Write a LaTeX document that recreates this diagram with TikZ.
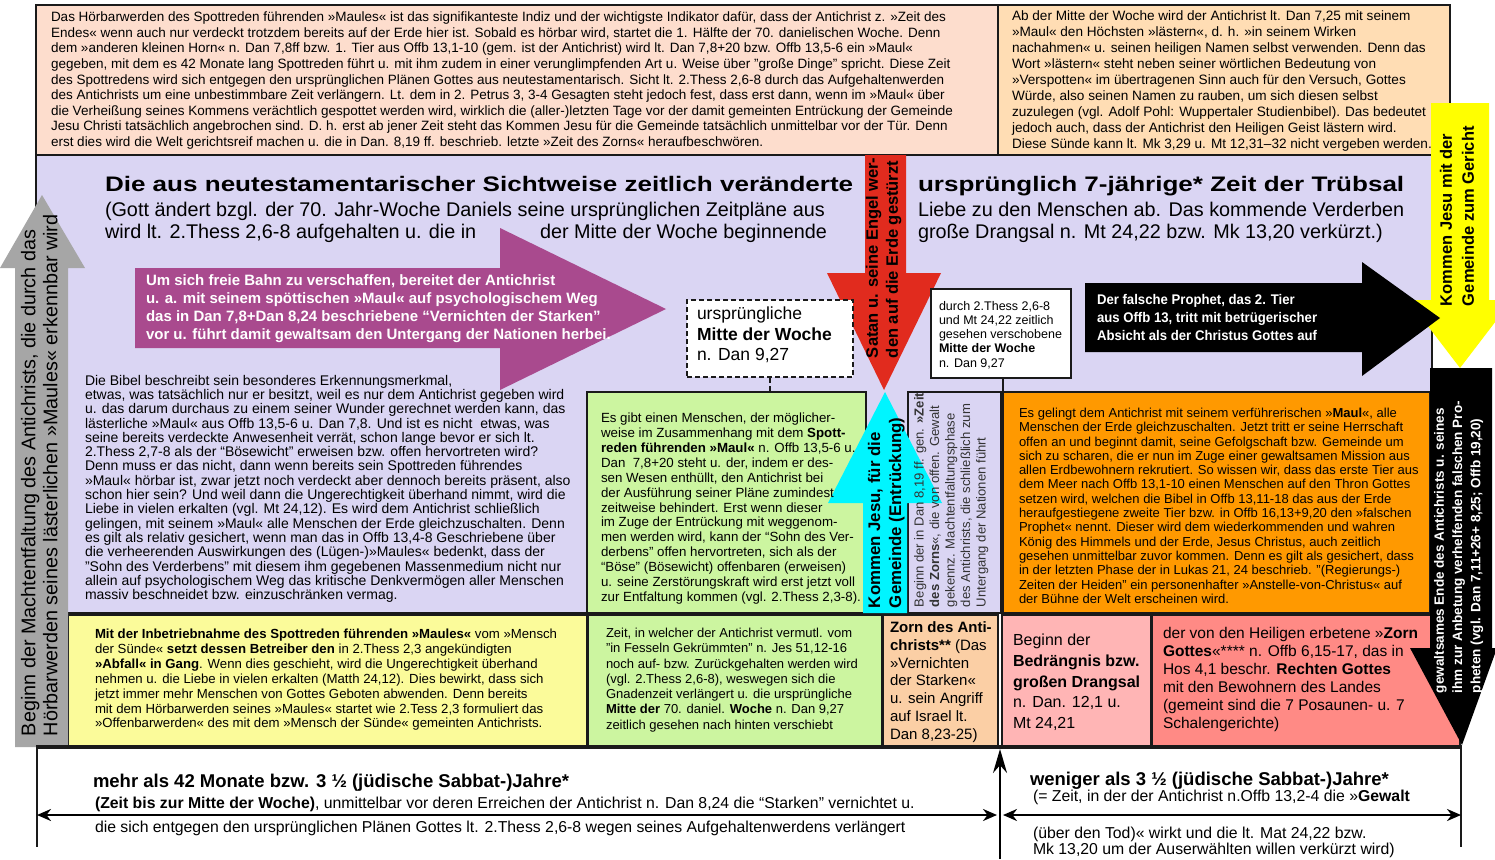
\documentclass[tikz,border=0pt]{standalone}
\usepackage{fontspec}
\usepackage{graphicx}
\setmainfont{Liberation Sans}
\newfontfamily\widesans[FakeStretch=1.24]{Liberation Sans}
\newfontfamily\narrowsans[FakeStretch=0.94]{Liberation Sans}
\usetikzlibrary{arrows.meta}
\definecolor{bd}{HTML}{1A1A1A}
\definecolor{lav}{HTML}{DAD5F3}
\definecolor{tlpeach}{HTML}{FDDDCD}
\definecolor{trpeach}{HTML}{FFDDB4}
\definecolor{purp}{HTML}{A94A8E}
\definecolor{redarr}{HTML}{E12B1E}
\definecolor{cyanarr}{HTML}{00F5FF}
\definecolor{yelarr}{HTML}{FFFF00}
\definecolor{grn}{HTML}{CCF5A0}
\definecolor{orng}{HTML}{FF9900}
\definecolor{ylw}{HTML}{FBFB9A}
\definecolor{pch}{HTML}{FBCFA5}
\definecolor{pnk}{HTML}{FFB5B5}
\definecolor{slm}{HTML}{FF8A85}
\definecolor{gry}{HTML}{A6A6A6}
\newcommand{\fsz}[2]{\fontsize{#1}{#2}\selectfont}
\begin{document}
\begin{tikzpicture}[x=1pt,y=-1pt,
  bx/.style={draw=bd, line width=2.6pt, inner sep=0pt, outer sep=0pt, anchor=north west},
  tx/.style={inner sep=0pt, outer sep=0pt, align=left, anchor=north west},
  ln/.style={inner sep=0pt, outer sep=0pt, anchor=base west},
  rt/.style={inner sep=0pt, outer sep=0pt, align=left, anchor=north west, rotate=90},
  dimarrow/.style={line width=2.5pt, {Stealth[length=14pt,width=12pt]}-{Stealth[length=14pt,width=12pt]}}
]
\useasboundingbox[fill=white] (0,0) rectangle (1495,859);

% main background panels
\node[bx, fill=lav, minimum width=1396pt, minimum height=458pt] (lavbg) at (36,155) {};
\node[bx, fill=tlpeach, minimum width=962pt, minimum height=150pt] (tl) at (36,5) {};
\node[bx, fill=trpeach, minimum width=452pt, minimum height=150pt] (tr) at (998,5) {};

% middle boxes
\node[bx, fill=grn, minimum width=279pt, minimum height=221pt] (gbox) at (587,392) {};
\node[bx, fill=lav, minimum width=93pt, minimum height=221pt] (zcol) at (908,392) {};
\node[bx, fill=orng, minimum width=427pt, minimum height=221pt] (obox) at (1003,392) {};

% bottom row boxes
\node[bx, fill=ylw, minimum width=519pt, minimum height=132pt] (ybox) at (68,615) {};
\node[bx, fill=grn, minimum width=294pt, minimum height=132pt] (g2box) at (588,615) {};
\node[bx, fill=pch, minimum width=115pt, minimum height=132pt] (pbox) at (883,615) {};
\node[bx, fill=pnk, minimum width=149pt, minimum height=132pt] (pkbox) at (1002,615) {};
\node[bx, fill=slm, minimum width=308pt, minimum height=132pt] (sbox) at (1152,615) {};

% grey left arrow
\fill[gry] (15,747) -- (15,268) -- (0,268) -- (42,195) -- (85,268) -- (68,268) -- (68,747) -- cycle;

% purple arrow
\fill[purp] (135,268) -- (500,268) -- (500,228) -- (666,309) -- (500,390) -- (500,348) -- (135,348) -- cycle;

% red arrow
\fill[redarr] (865,155) -- (906,155) -- (906,273) -- (941,273) -- (884,390) -- (827,273) -- (865,273) -- cycle;

% cyan arrow
\fill[cyanarr] (863,613) -- (863,503) -- (828,503) -- (885,392) -- (942,503) -- (907,503) -- (907,613) -- cycle;

% yellow arrow
\fill[yelarr] (1431,103) -- (1489,103) -- (1489,300) -- (1512,300) -- (1460,368) -- (1408,300) -- (1431,300) -- cycle;

% black horizontal arrow
\fill[black] (1085,283) -- (1362,283) -- (1362,262) -- (1440,318) -- (1362,376) -- (1362,352) -- (1085,352) -- cycle;

% black vertical arrow
\fill[black] (1430,368) -- (1492,368) -- (1492,648) -- (1497,648) -- (1462,745) -- (1410,648) -- (1430,648) -- cycle;

% dashed box and durch box
\node[draw=bd, line width=2pt, dash pattern=on 5pt off 3pt, fill=white, minimum width=166pt, minimum height=77pt, anchor=north west, inner sep=0pt] (mitte) at (686,299) {};
\draw[bd, line width=2pt, dash pattern=on 5pt off 3pt] (mitte.south) -- (mitte.south |- gbox.north);
\node[bx, fill=white, minimum width=140pt, minimum height=89pt] (durch) at (931,289) {};
\draw[bd, line width=2pt] (durch.south -| obox.west) -- (obox.north west);

% bottom region
\draw[bd, line width=4pt] (36,747) -- (1462,747);
\coordinate (Ltop) at (37,747);
\coordinate (Lbot) at (37,847);
\coordinate (Rtop) at (1461,747);
\coordinate (Rbot) at (1461,847);
\coordinate (L) at (37,815);
\coordinate (Ml) at (997,815);
\coordinate (Mr) at (1003,815);
\coordinate (R) at (1461,815);
\coordinate (upbot) at (1000,859);
\coordinate (uptop) at (1000,749);
\draw[bd, line width=1.5pt] (Ltop) -- (Lbot);
\draw[bd, line width=1.5pt] (Rtop) -- (Rbot);
\draw[dimarrow] (L) -- (Ml);
\draw[dimarrow] (Mr) -- (R);
\draw[line width=2pt, -{Stealth[length=24pt,width=14pt]}] (upbot) -- (uptop);

% ---------- texts ----------
\node[tx, font=\fsz{13.5}{15.6}] (tltext) at (51,12) {Das Hörbarwerden des Spottreden führenden »Maules« ist das signifikanteste Indiz und der wichtigste Indikator dafür, dass der Antichrist z. »Zeit des\\
Endes« wenn auch nur verdeckt trotzdem bereits auf der Erde hier ist. Sobald es hörbar wird, startet die 1. Hälfte der 70. danielischen Woche. Denn\\
dem »anderen kleinen Horn« n. Dan 7,8ff bzw. 1. Tier aus Offb 13,1-10 (gem. ist der Antichrist) wird lt. Dan 7,8+20 bzw. Offb 13,5-6 ein »Maul«\\
gegeben, mit dem es 42 Monate lang Spottreden führt u. mit ihm zudem in einer verunglimpfenden Art u. Weise über "große Dinge" spricht. Diese Zeit\\
des Spottredens wird sich entgegen den ursprünglichen Plänen Gottes aus neutestamentarisch. Sicht lt. 2.Thess 2,6-8 durch das Aufgehaltenwerden\\
des Antichrists um eine unbestimmbare Zeit verlängern. Lt. dem in 2. Petrus 3, 3-4 Gesagten steht jedoch fest, dass erst dann, wenn im »Maul« über\\
die Verheißung seines Kommens verächtlich gespottet werden wird, wirklich die (aller-)letzten Tage vor der damit gemeinten Entrückung der Gemeinde\\
Jesu Christi tatsächlich angebrochen sind. D. h. erst ab jener Zeit steht das Kommen Jesu für die Gemeinde tatsächlich unmittelbar vor der Tür. Denn\\
erst dies wird die Welt gerichtsreif machen u. die in Dan. 8,19 ff. beschrieb. letzte »Zeit des Zorns« heraufbeschwören.};

\node[tx, font=\fsz{13.6}{16}] (trtext) at (1012,11) {Ab der Mitte der Woche wird der Antichrist lt. Dan 7,25 mit seinem\\
»Maul« den Höchsten »lästern«, d. h. »in seinem Wirken\\
nachahmen« u. seinen heiligen Namen selbst verwenden. Denn das\\
Wort »lästern« steht neben seiner wörtlichen Bedeutung von\\
»Verspotten« im übertragenen Sinn auch für den Versuch, Gottes\\
Würde, also seinen Namen zu rauben, um sich diesen selbst\\
zuzulegen (vgl. Adolf Pohl: Wuppertaler Studienbibel). Das bedeutet\\
jedoch auch, dass der Antichrist den Heiligen Geist lästern wird.\\
Diese Sünde kann lt. Mk 3,29 u. Mt 12,31–32 nicht vergeben werden.};

\node[ln, font=\widesans\bfseries\fsz{21}{24}] (t1) at (105,191) {Die aus neutestamentarischer Sichtweise zeitlich veränderte};
\node[ln, font=\fsz{19.8}{22}] (t2) at (105,216) {(Gott ändert bzgl. der 70. Jahr-Woche Daniels seine ursprünglichen Zeitpläne aus};
\node[ln, font=\fsz{19.8}{22}] (t3) at (105,238.5) {wird lt. 2.Thess 2,6-8 aufgehalten u. die in};
\node[ln, font=\fsz{19.8}{22}] (t4) at (540,238.5) {der Mitte der Woche beginnende};
\node[ln, font=\widesans\bfseries\fsz{21}{24}] (t5) at (918,191) {ursprünglich 7-jährige* Zeit der Trübsal};
\node[ln, font=\fsz{19.8}{22}] (t6) at (918,216) {Liebe zu den Menschen ab. Das kommende Verderben};
\node[ln, font=\fsz{19.8}{22}] (t7) at (918,238.5) {große Drangsal n. Mt 24,22 bzw. Mk 13,20 verkürzt.)};

\node[tx, font=\bfseries\fsz{15}{17.8}, text=white] (purptxt) at (146,275) {Um sich freie Bahn zu verschaffen, bereitet der Antichrist\\
u. a. mit seinem spöttischen »Maul« auf psychologischem Weg\\
das in Dan 7,8+Dan 8,24 beschriebene “Vernichten der Starken”\\
vor u. führt damit gewaltsam den Untergang der Nationen herbei.};

\node[tx, font=\fsz{17.5}{20.5}] (mittetxt) at (697,307) {ursprüngliche\\\textbf{Mitte der Woche}\\n. Dan 9,27};

\node[tx, font=\fsz{12.5}{14.3}] (durchtxt) at (939,301) {durch 2.Thess 2,6-8\\und Mt 24,22 zeitlich\\gesehen verschobene\\\textbf{Mitte der Woche}\\n. Dan 9,27};

\node[tx, font=\narrowsans\bfseries\fsz{14}{18}, text=white] (blacktxt) at (1097,294) {Der falsche Prophet, das 2. Tier\\aus Offb 13, tritt mit betrügerischer\\Absicht als der Christus Gottes auf};

\node[tx, font=\fsz{14}{14.3}] (lefttxt) at (85,375) {Die Bibel beschreibt sein besonderes Erkennungsmerkmal,\\
etwas, was tatsächlich nur er besitzt, weil es nur dem Antichrist gegeben wird\\
u. das darum durchaus zu einem seiner Wunder gerechnet werden kann, das\\
lästerliche »Maul« aus Offb 13,5-6 u. Dan 7,8. Und ist es nicht\ \ etwas, was\\
seine bereits verdeckte Anwesenheit verrät, schon lange bevor er sich lt.\\
2.Thess 2,7-8 als der “Bösewicht” erweisen bzw. offen hervortreten wird?\\
Denn muss er das nicht, dann wenn bereits sein Spottreden führendes\\
»Maul« hörbar ist, zwar jetzt noch verdeckt aber dennoch bereits präsent, also\\
schon hier sein? Und weil dann die Ungerechtigkeit überhand nimmt, wird die\\
Liebe in vielen erkalten (vgl. Mt 24,12). Es wird dem Antichrist schließlich\\
gelingen, mit seinem »Maul« alle Menschen der Erde gleichzuschalten. Denn\\
es gilt als relativ gesichert, wenn man das in Offb 13,4-8 Geschriebene über\\
die verheerenden Auswirkungen des (Lügen-)»Maules« bedenkt, dass der\\
"Sohn des Verderbens" mit diesem ihm gegebenen Massenmedium nicht nur\\
allein auf psychologischem Weg das kritische Denkvermögen aller Menschen\\
massiv beschneidet bzw. einzuschränken vermag.};

\node[tx, font=\fsz{13.3}{14.9}] (gtxt) at (601,413) {Es gibt einen Menschen, der möglicher-\\
weise im Zusammenhang mit dem \textbf{Spott-}\\
\textbf{reden führenden »Maul«} n. Offb 13,5-6 u.\\
Dan\ \ 7,8+20 steht u. der, indem er des-\\
sen Wesen enthüllt, den Antichrist bei\\
der Ausführung seiner Pläne zumindest\\
zeitweise behindert. Erst wenn dieser\\
im Zuge der Entrückung mit weggenom-\\
men werden wird, kann der “Sohn des Ver-\\
derbens” offen hervortreten, sich als der\\
“Böse” (Bösewicht) offenbaren (erweisen)\\
u. seine Zerstörungskraft wird erst jetzt voll\\
zur Entfaltung kommen (vgl. 2.Thess 2,3-8).};

\node[tx, font=\fsz{13}{14.3}] (otxt) at (1019,408) {Es gelingt dem Antichrist mit seinem verführerischen »\textbf{Maul}«, alle\\
Menschen der Erde gleichzuschalten. Jetzt tritt er seine Herrschaft\\
offen an und beginnt damit, seine Gefolgschaft bzw. Gemeinde um\\
sich zu scharen, die er nun im Zuge einer gewaltsamen Mission aus\\
allen Erdbewohnern rekrutiert. So wissen wir, dass das erste Tier aus\\
dem Meer nach Offb 13,1-10 einen Menschen auf den Thron Gottes\\
setzen wird, welchen die Bibel in Offb 13,11-18 das aus der Erde\\
heraufgestiegene zweite Tier bzw. in Offb 16,13+9,20 den »falschen\\
Prophet« nennt. Dieser wird dem wiederkommenden und wahren\\
König des Himmels und der Erde, Jesus Christus, auch zeitlich\\
gesehen unmittelbar zuvor kommen. Denn es gilt als gesichert, dass\\
in der letzten Phase der in Lukas 21, 24 beschrieb. "(Regierungs-)\\
Zeiten der Heiden" ein personenhafter »Anstelle-von-Christus« auf\\
der Bühne der Welt erscheinen wird.};

\node[tx, font=\fsz{13.2}{14.9}] (ytxt) at (95,629) {\textbf{Mit der Inbetriebnahme des Spottreden führenden »Maules«} vom »Mensch\\
der Sünde« \textbf{setzt dessen Betreiber den} in 2.Thess 2,3 angekündigten\\
\textbf{»Abfall« in Gang}. Wenn dies geschieht, wird die Ungerechtigkeit überhand\\
nehmen u. die Liebe in vielen erkalten (Matth 24,12). Dies bewirkt, dass sich\\
jetzt immer mehr Menschen von Gottes Geboten abwenden. Denn bereits\\
mit dem Hörbarwerden seines »Maules« startet wie 2.Tess 2,3 formuliert das\\
»Offenbarwerden« des mit dem »Mensch der Sünde« gemeinten Antichrists.};

\node[tx, font=\fsz{13}{15.3}] (g2txt) at (606,628) {Zeit, in welcher der Antichrist vermutl. vom\\
"in Fesseln Gekrümmten" n. Jes 51,12-16\\
noch auf- bzw. Zurückgehalten werden wird\\
(vgl. 2.Thess 2,6-8), weswegen sich die\\
Gnadenzeit verlängert u. die ursprüngliche\\
\textbf{Mitte der} 70. daniel. \textbf{Woche} n. Dan 9,27\\
zeitlich gesehen nach hinten verschiebt};

\node[tx, font=\fsz{15}{17.7}] (ptxt) at (890,622) {\textbf{Zorn des Anti-}\\
\textbf{christs**} (Das\\
»Vernichten\\
der Starken«\\
u. sein Angriff\\
auf Israel lt.\\
Dan 8,23-25)};

\node[tx, font=\fsz{16}{20.7}] (pktxt) at (1013,634) {Beginn der\\
\textbf{Bedrängnis bzw.}\\
\textbf{großen Drangsal}\\
n. Dan. 12,1 u.\\
Mt 24,21};

\node[tx, font=\fsz{15.5}{18}] (stxt) at (1163,627) {der von den Heiligen erbetene »\textbf{Zorn}\\
\textbf{Gottes}«**** n. Offb 6,15-17, das in\\
Hos 4,1 beschr. \textbf{Rechten Gottes}\\
mit den Bewohnern des Landes\\
(gemeint sind die 7 Posaunen- u. 7\\
Schalengerichte)};

% rotated texts
\node[rt, font=\fsz{19.8}{22}] (greytxt) at (21,736) {Beginn der Machtentfaltung des Antichrists, die durch das\\Hörbarwerden seines lästerlichen »Maules« erkennbar wird};
\node[rt, font=\bfseries\fsz{16.5}{20}] (redtxt) at (866,358) {Satan u. seine Engel wer-\\den auf die Erde gestürzt};
\node[rt, font=\bfseries\fsz{16.8}{21}] (cyantxt) at (868,608) {Kommen Jesu, für die\\Gemeinde (Entrückung)};
\node[rt, font=\fsz{13.1}{15.5}, text=black!80] (zorntxt) at (914,607) {Beginn der in Dan 8,19 ff. gen. \textbf{»Zeit}\\
\textbf{des Zorns}«, die von offen. Gewalt\\
gekennz. Machtentfaltungsphase\\
des Antichrists, die schließlich zum\\
Untergang der Nationen führt};
\node[rt, font=\bfseries\fsz{16.5}{22}] (yeltxt) at (1440,306) {Kommen Jesu mit der\\Gemeinde zum Gericht};
\node[rt, font=\bfseries\fsz{13.5}{18.3}, text=white] (endtxt) at (1434,693) {gewaltsames Ende des Antichrists u. seines\\ihm zur Anbetung verhelfenden falschen Pro-\\pheten (vgl. Dan 7,11+26+ 8,25; Offb 19,20)};

% bottom texts
\node[ln, font=\bfseries\fsz{18.5}{20}] (b1) at (93,787) {mehr als 42 Monate bzw. 3 ½ (jüdische Sabbat-)Jahre*};
\node[ln, font=\fsz{15.8}{18}] (b2) at (95,808.5) {\textbf{(Zeit bis zur Mitte der Woche)}, unmittelbar vor deren Erreichen der Antichrist n. Dan 8,24 die “Starken” vernichtet u.};
\node[ln, font=\fsz{15.8}{18}] (b3) at (95,832.5) {die sich entgegen den ursprünglichen Plänen Gottes lt. 2.Thess 2,6-8 wegen seines Aufgehaltenwerdens verlängert};
\node[ln, font=\bfseries\fsz{18.5}{20}] (b4) at (1030,785) {weniger als 3 ½ (jüdische Sabbat-)Jahre*};
\node[ln, font=\fsz{15.8}{18}] (b5) at (1033,801.5) {(= Zeit, in der der Antichrist n.Offb 13,2-4 die »\textbf{Gewalt}};
\node[ln, font=\fsz{15.8}{18}] (b6) at (1033,838.5) {(über den Tod)« wirkt und die lt. Mat 24,22 bzw.};
\node[ln, font=\fsz{15.8}{18}] (b7) at (1033,854.5) {Mk 13,20 um der Auserwählten willen verkürzt wird)};
\end{tikzpicture}
\end{document}
